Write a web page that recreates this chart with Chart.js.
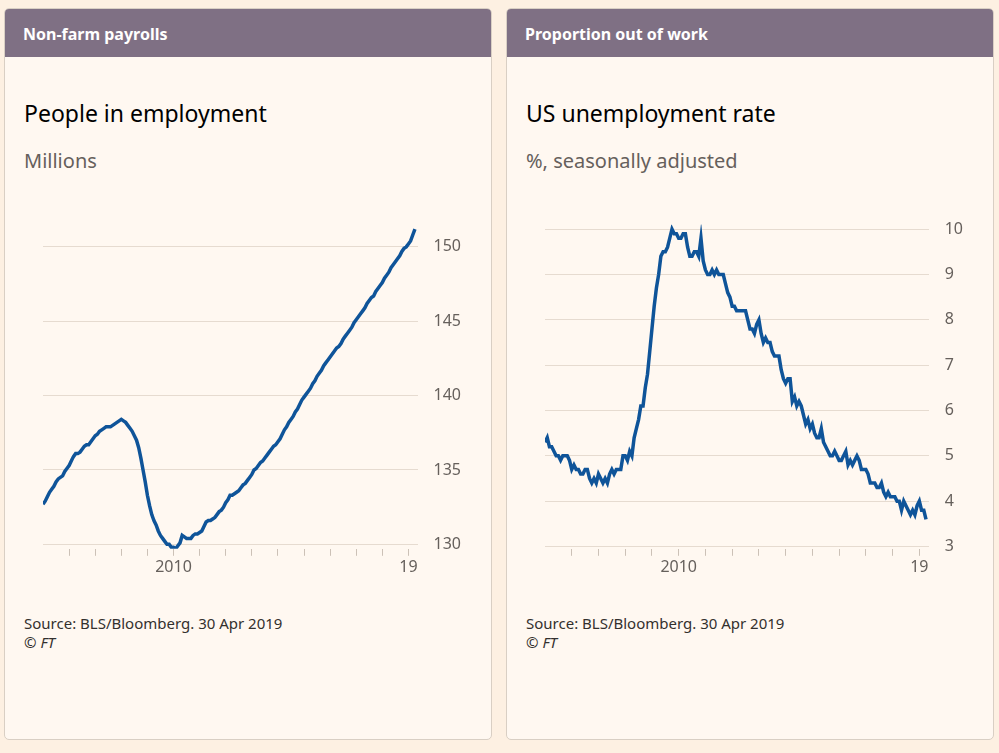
<!DOCTYPE html>
<html>
<head>
<meta charset="utf-8">
<script src="https://cdn.jsdelivr.net/npm/chart.js@4/dist/chart.umd.min.js"></script>
<style>
  body { margin: 0; background: #fdf0e2; font-family: "Noto Sans", Lato, sans-serif; width: 999px; height: 753px; overflow: hidden; }
  .panel { position: absolute; top: 8px; width: 486px; height: 730px; background: #fff8f1; border: 1px solid #d9cfc4; border-radius: 5px; overflow: hidden; }
  .head { height: 48px; background: #7f7084; color: #fff; font-weight: bold; font-size: 16px; line-height: 50px; padding-left: 18px; }
  .title { position: absolute; left: 19px; top: 88px; font-size: 23px; color: #000; }
  .sub { position: absolute; left: 19px; top: 138px; font-size: 20px; color: #66605c; }
  .src { position: absolute; left: 19px; top: 605px; font-size: 15px; color: #33302e; line-height: 19px; }
  canvas { position: absolute; left: 0; top: 190px; }
</style>
</head>
<body>
<div class="panel" style="left:4px">
  <div class="head">Non-farm payrolls</div>
  <div class="title">People in employment</div>
  <div class="sub">Millions</div>
  <canvas id="c1" width="486" height="380" style="width:486px;height:380px"></canvas>
  <div class="src">Source: BLS/Bloomberg. 30 Apr 2019<br><i>© FT</i></div>
</div>
<div class="panel" style="left:506px">
  <div class="head">Proportion out of work</div>
  <div class="title">US unemployment rate</div>
  <div class="sub">%, seasonally adjusted</div>
  <canvas id="c2" width="486" height="380" style="width:486px;height:380px"></canvas>
  <div class="src">Source: BLS/Bloomberg. 30 Apr 2019<br><i>© FT</i></div>
</div>
<script>
// monthly, Jan 2005 - Apr 2019
var startYear = 2005;
var payrolls = [
  132.7,132.9,133.2,133.5,133.7,133.9,134.2,134.4,134.5,134.6,134.9,135.1,
  135.3,135.6,135.9,136.1,136.1,136.2,136.4,136.6,136.7,136.7,136.9,137.1,
  137.3,137.4,137.6,137.7,137.8,137.9,137.9,137.9,138.0,138.1,138.2,138.3,
  138.4,138.3,138.2,138.0,137.8,137.6,137.3,137.0,136.5,135.8,135.0,134.2,
  133.3,132.6,132.0,131.6,131.3,130.9,130.6,130.4,130.2,130.0,130.0,129.8,
  129.8,129.7,129.9,130.1,130.6,130.5,130.4,130.4,130.4,130.6,130.7,130.7,
  130.8,130.9,131.2,131.5,131.6,131.6,131.7,131.8,132.0,132.2,132.3,132.5,
  132.8,133.0,133.3,133.3,133.4,133.5,133.6,133.8,134.0,134.1,134.3,134.5,
  134.7,135.0,135.1,135.3,135.5,135.6,135.8,136.0,136.2,136.4,136.6,136.7,
  136.9,137.1,137.4,137.7,137.9,138.2,138.4,138.6,138.9,139.1,139.4,139.7,
  139.9,140.1,140.3,140.5,140.8,141.0,141.3,141.5,141.7,142.0,142.2,142.4,
  142.6,142.8,143.0,143.2,143.3,143.5,143.8,144.0,144.2,144.4,144.6,144.9,
  145.1,145.3,145.5,145.7,145.9,146.2,146.4,146.6,146.7,147.0,147.2,147.4,
  147.6,147.9,148.1,148.3,148.6,148.8,149.0,149.2,149.4,149.7,149.9,150.0,
  150.2,150.4,150.8,151.2
];
var unemployment = [
  5.3,5.4,5.2,5.2,5.1,5.0,5.0,4.9,5.0,5.0,5.0,4.9,
  4.7,4.8,4.7,4.7,4.6,4.6,4.7,4.7,4.5,4.4,4.5,4.4,
  4.6,4.5,4.4,4.5,4.4,4.6,4.7,4.6,4.7,4.7,4.7,5.0,
  5.0,4.9,5.1,5.0,5.4,5.6,5.8,6.1,6.1,6.5,6.8,7.3,
  7.8,8.3,8.7,9.0,9.4,9.5,9.5,9.6,9.8,10.0,9.9,9.9,
  9.8,9.8,9.9,9.9,9.6,9.4,9.4,9.5,9.5,9.4,9.8,9.3,
  9.1,9.0,9.0,9.1,9.0,9.1,9.0,9.0,9.0,8.8,8.6,8.5,
  8.3,8.3,8.2,8.2,8.2,8.2,8.2,8.0,7.8,7.8,7.7,7.9,
  8.0,7.7,7.5,7.6,7.5,7.5,7.3,7.2,7.2,7.2,6.9,6.7,
  6.6,6.7,6.7,6.2,6.3,6.1,6.2,6.1,5.9,5.7,5.8,5.6,
  5.7,5.5,5.4,5.4,5.6,5.3,5.2,5.1,5.0,5.0,5.1,5.0,
  4.9,4.9,5.0,5.1,4.8,4.9,4.8,4.9,5.0,4.9,4.7,4.7,
  4.7,4.6,4.4,4.4,4.4,4.3,4.3,4.4,4.2,4.1,4.2,4.1,
  4.1,4.1,4.0,4.0,3.8,4.0,3.9,3.8,3.7,3.8,3.7,3.9,
  4.0,3.8,3.8,3.6
];
var payrollTicks = [130, 135, 140, 145, 150];
var rateTicks = [3, 4, 5, 6, 7, 8, 9, 10];
var yearTicks = [2006, 2007, 2008, 2009, 2010, 2011, 2012, 2013, 2014, 2015, 2016, 2017, 2018, 2019];
var yearLabels = { 2010: '2010', 2019: '19' };

function toPoints(values) {
  return values.map(function(v, i) { return { x: startYear + i / 12, y: v }; });
}

function createLine(elementId, values, yTicks, yMin, yMax, padLeft) {
  var ctx = document.getElementById(elementId).getContext('2d');
  return new Chart(ctx, {
    type: 'line',
    data: { datasets: [{ data: toPoints(values), borderColor: '#0f5499', borderWidth: 3.5, pointRadius: 0, tension: 0 }] },
    options: {
      responsive: false,
      animation: false,
      layout: { padding: { left: padLeft, right: 14, top: 0, bottom: 0 } },
      plugins: { legend: { display: false }, tooltip: { enabled: false } },
      scales: {
        x: {
          type: 'linear', min: 2005, max: 2019.35,
          afterBuildTicks: function(s) { s.ticks = yearTicks.map(function(v) { return { value: v }; }); },
          grid: { drawOnChartArea: false, tickLength: 7, tickColor: '#ccc1b7', tickWidth: 1 },
          border: { display: false },
          ticks: { autoSkip: false, maxRotation: 0, padding: 2, color: '#66605c', font: { family: 'Noto Sans', size: 16 },
                   callback: function(v) { return yearLabels[v] || ''; } }
        },
        y: {
          position: 'right', min: yMin, max: yMax,
          afterBuildTicks: function(s) { s.ticks = yTicks.map(function(v) { return { value: v }; }); },
          grid: { color: '#e6dbd0', lineWidth: 1, drawTicks: false },
          border: { display: false },
          ticks: { padding: 16, color: '#66605c', font: { family: 'Noto Sans', size: 16 } }
        }
      }
    }
  });
}

createLine('c1', payrolls, payrollTicks, 129.7, 151.5, 38);
createLine('c2', unemployment, rateTicks, 2.95, 10.1, 38);
</script>
</body>
</html>
